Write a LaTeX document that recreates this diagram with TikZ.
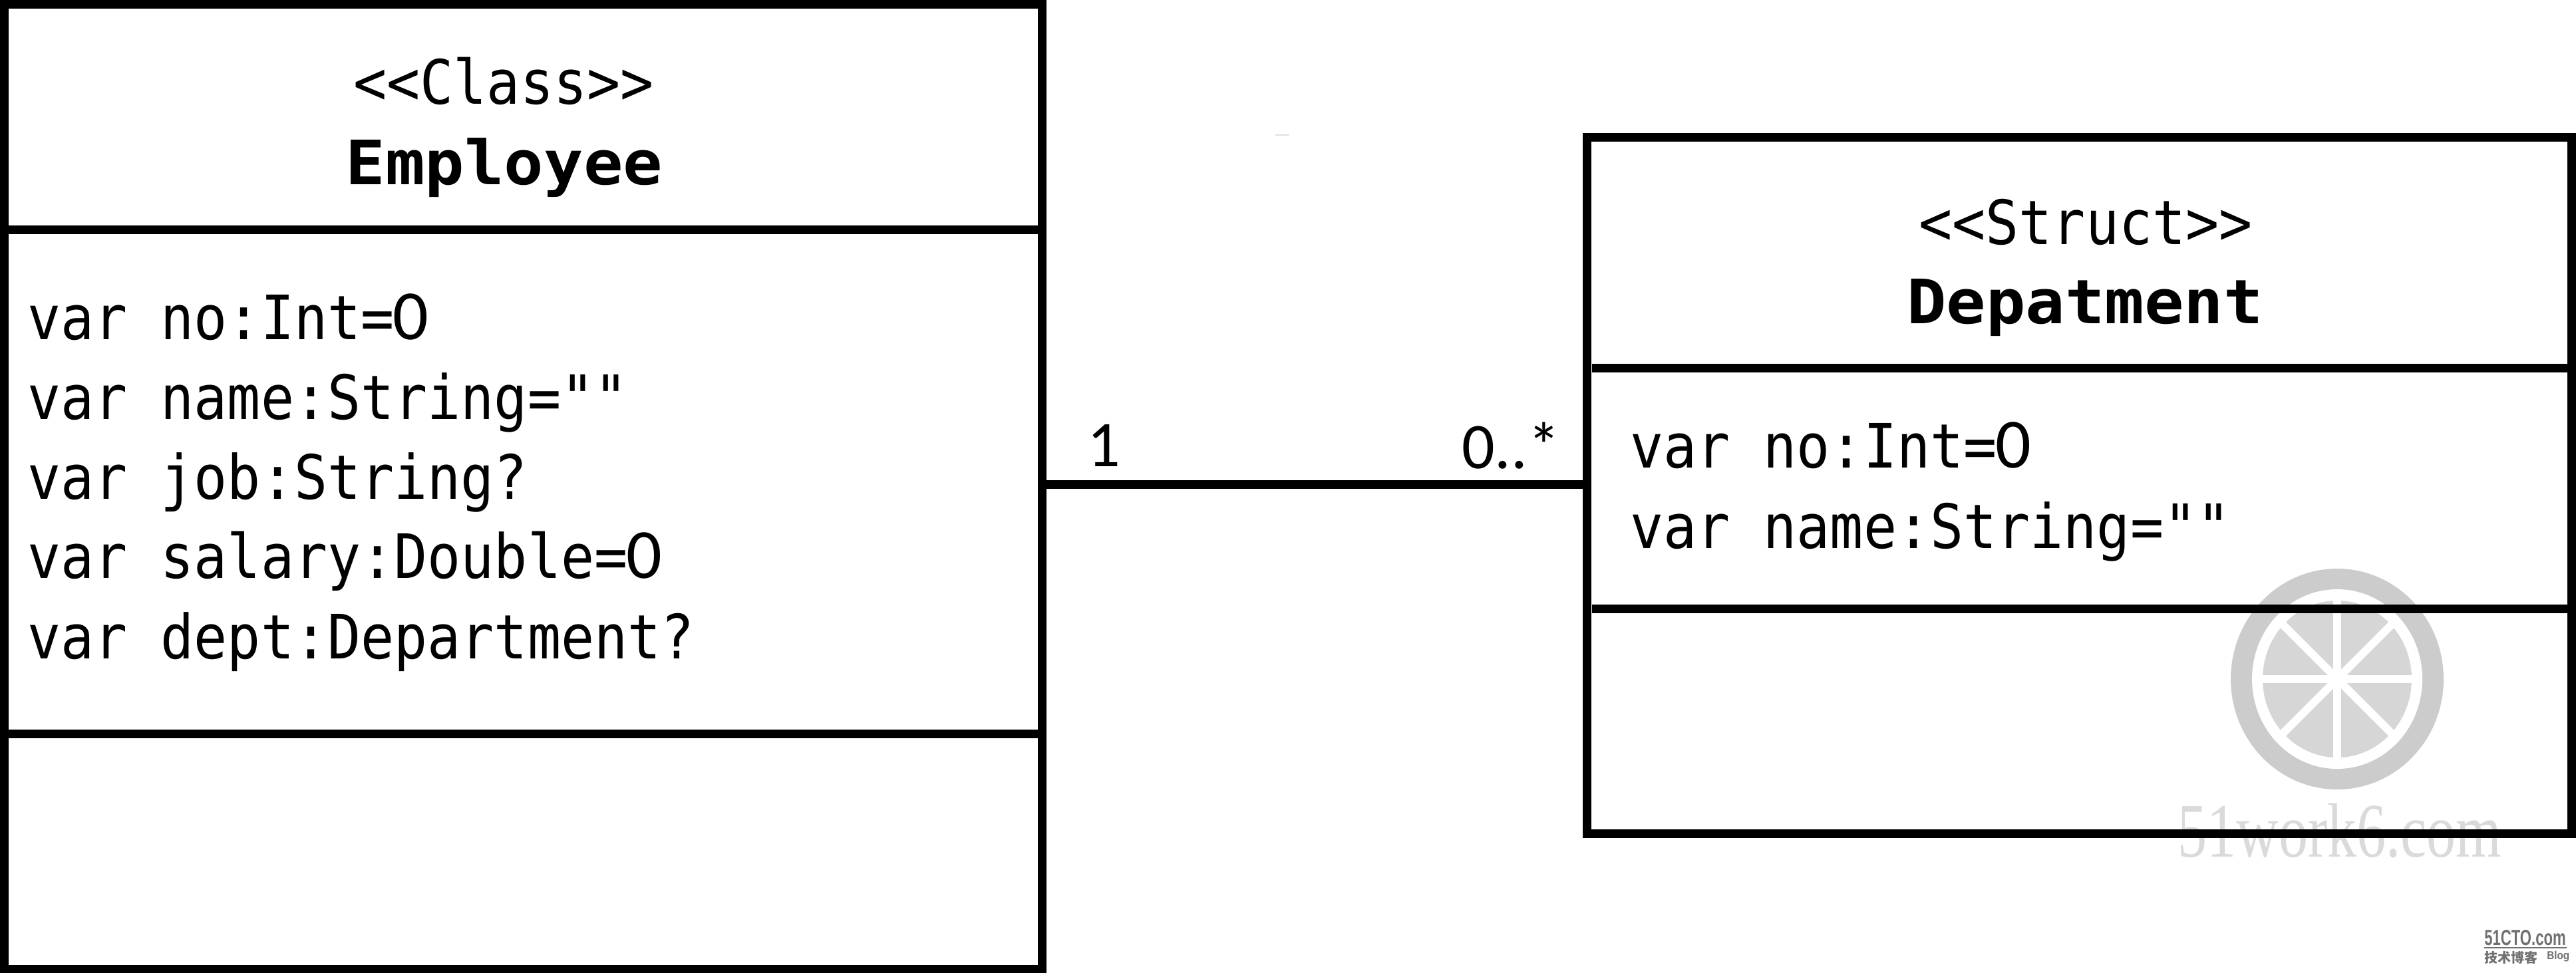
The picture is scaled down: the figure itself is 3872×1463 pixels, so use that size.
\documentclass[tikz,border=0pt]{standalone}
\usepackage{fontspec}
\newfontfamily\umlmono[FakeStretch=0.905]{DejaVu Sans Mono}
\newfontfamily\umlhead[FakeStretch=1.075]{DejaVu Sans Mono}
\newfontfamily\umlmult{Carlito}
\newfontfamily\markserif[FakeStretch=0.76]{Liberation Serif}
\newfontfamily\marklogo[FakeStretch=0.67]{Liberation Sans}
\newfontfamily\markblog[FakeStretch=0.9]{Liberation Sans}
\newfontfamily\markcjk{Noto Sans CJK SC}
\definecolor{ringgray}{HTML}{CCCCCC}
\definecolor{wedgegray}{HTML}{D6D6D6}
\definecolor{marktext}{HTML}{DADADA}
\definecolor{logogray}{HTML}{707070}
\newcommand{\plainzero}{\makebox[50.1pt]{\umlmult\fontsize{106}{106}\selectfont 0}}
\tikzset{
    classbox/.style={draw=black, line width=13pt, inner sep=0pt, outer sep=0pt},
    divider/.style={line width=13pt},
    attrtext/.style={anchor=base west, inner sep=0pt, font=\umlmono\fontsize{92}{92}\selectfont},
    stereotext/.style={anchor=base, inner sep=0pt, font=\umlmono\fontsize{92}{92}\selectfont},
    nametext/.style={anchor=base, inner sep=0pt, font=\umlhead\bfseries\fontsize{92}{92}\selectfont},
    multtext/.style={anchor=base west, inner sep=0pt, font=\umlmult\fontsize{98}{98}\selectfont},
    logotext/.style={anchor=base west, inner sep=0pt, text=logogray}
}
\begin{document}
\begin{tikzpicture}[x=1pt,y=1pt]
    \useasboundingbox (0,0) rectangle (3872,-1463);

    % watermark behind the boxes
    \coordinate (hub) at (3513,-1021);
    \fill[ringgray] (hub) ellipse [x radius=160, y radius=166];
    \fill[white] (hub) ellipse [x radius=128, y radius=135];
    \fill[wedgegray] (hub) ellipse [x radius=112, y radius=118];
    \foreach \ang in {0,45,90,135} {
        \draw[white, line width=12pt] (hub) ++(\ang:126) -- ++(\ang+180:252);
    }
    \fill[white] (hub) circle (14);
    \node[anchor=base west, inner sep=0pt, text=marktext, font=\markserif\fontsize{116}{116}\selectfont] (sitemark) at (3273,-1288) {51work6.com};
    \fill[black!12] (1917,-202) rectangle (1938,-204);

    \node[logotext, font=\marklogo\bfseries\fontsize{33}{33}\selectfont] (logomark) at (3734,-1421) {51CTO.com};
    \fill[logogray] (3734,-1424) rectangle (3858,-1426);
    \node[logotext, font=\markcjk\bfseries\fontsize{20}{20}\selectfont] (logocjk) at (3734,-1447) {技术博客};
    \node[logotext, font=\markblog\bfseries\fontsize{17}{17}\selectfont] (logoblog) at (3828,-1442) {Blog};

    % class on the left
    \node[classbox, minimum width=1559.5pt, minimum height=1450.5pt] (employee) at (786.25,-731.75) {};
    \draw[divider] (0,-345.5) -- (1572,-345.5);
    \draw[divider] (0,-1103) -- (1572,-1103);

    \node[stereotext] (empstereo) at (757,-157) {<{}<Class>{}>};
    \node[nametext] (empname) at (758,-277) {Employee};

    \node[attrtext] (empno) at (41,-510) {var no:Int=\plainzero};
    \node[attrtext] (empjobname) at (41,-630) {var name:String=""};
    \node[attrtext] (empjob) at (41,-750) {var job:String?};
    \node[attrtext] (empsalary) at (41,-869) {var salary:Double=\plainzero};
    \node[attrtext] (empdept) at (41,-990) {var dept:Department?};

    % struct on the right
    \node[classbox, minimum width=1480.5pt, minimum height=1047pt] (department) at (3125.25,-730) {};
    \draw[divider] (2393,-553) -- (3872,-553);
    \draw[divider] (2393,-915) -- (3872,-915);

    \node[stereotext] (depstereo) at (3135,-367) {<{}<Struct>{}>};
    \node[nametext] (depname) at (3134,-486) {Depatment};

    \node[attrtext] (depno) at (2450,-703) {var no:Int=\plainzero};
    \node[attrtext] (depjobname) at (2450,-824) {var name:String=""};

    % association
    \coordinate (assoc) at (0,-728);
    \draw[divider] (employee.east |- assoc) -- (department.west |- assoc);
    \node[multtext] (multone) at (1634,-701) {1};
    \node[multtext] (multmany) at (2197,-704) {0..*};
\end{tikzpicture}
\end{document}
